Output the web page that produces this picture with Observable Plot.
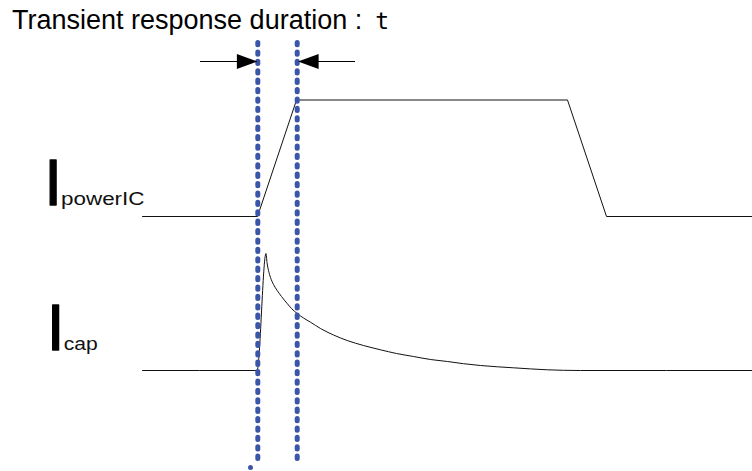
<!DOCTYPE html>
<html><head><meta charset="utf-8">
<script src="https://cdn.jsdelivr.net/npm/d3@7"></script>
<script src="https://cdn.jsdelivr.net/npm/@observablehq/plot@0.6"></script>
<style>
html,body{margin:0;padding:0;background:#fff;}
#wrap{position:relative;width:752px;height:471px;overflow:hidden;}
#title{position:absolute;left:12px;top:7px;font-family:"Liberation Sans",Arial,sans-serif;font-size:27px;line-height:27px;color:#000;white-space:nowrap;z-index:2;}
#title .t{font-family:"DejaVu Sans Mono";font-size:23px;line-height:0;margin-left:13px;}
</style></head><body>
<div id="wrap"><div id="title">Transient response duration :<span class="t">t</span></div></div>
<script>
// Time (left → right) and current level (bottom → top), arbitrary units
const powerTime  = [142, 257, 296, 567, 606, 752];
const powerLevel = [255, 255, 371.5, 371.5, 255, 255];

const capTime  = [142, 256.5, 265.5, 266.5, 268, 270, 273, 276.7, 281, 286.7, 291, 296.7, 303, 310, 320, 333, 346.7, 363, 380, 396, 413, 430, 447, 463, 480, 497, 513, 530, 547, 563, 580, 752];
const capLevel = [101, 101, 218, 209, 201, 194, 187, 181, 175, 168, 163, 158, 153.5, 149.3, 143, 136.5, 131, 126, 121.7, 118, 115, 112, 110, 107.8, 106, 104.7, 103.7, 102.6, 101.7, 101.2, 101, 101];

const transientEdges = [257.3, 296.7];      // start / end of transient window
const markerTop = 428.5, markerBottom = 7;   // extent of the window markers
const arrowLevel = 410;
const arrowTails = [200, 355];
const arrowTips  = [257, 297.5];

const labelNames = ["powerIC", "cap"];
const labelLevels = [267, 122];

const powerData = powerTime.map((t, i) => ({t, v: powerLevel[i]}));
const capData = capTime.map((t, i) => ({t, v: capLevel[i]}));
const edgeData = transientEdges.map(t => ({t, top: markerTop, bottom: markerBottom}));
const shaftData = [
  {x1: arrowTails[0], x2: arrowTips[0] - 18, y: arrowLevel},
  {x1: arrowTips[1] + 18, x2: arrowTails[1], y: arrowLevel}
];
const headData = [
  {x: arrowTips[0], y: arrowLevel, rot: 0},
  {x: arrowTips[1], y: arrowLevel, rot: 180}
];
const labelData = labelNames.map((s, i) => ({sub: s, v: labelLevels[i]}));

const arrowHead = {
  draw(ctx, size) {
    const r = Math.sqrt(size / Math.PI);
    ctx.moveTo(0, 0);
    ctx.lineTo(-2.75 * r, -r);
    ctx.lineTo(-2.75 * r, r);
    ctx.closePath();
  }
};

const blue = "#3a56a8";
const dash = "2.3 7.1";

const chart = Plot.plot({
  width: 752,
  height: 471,
  margin: 0,
  x: {domain: [0, 752], axis: null},
  y: {domain: [0, 471], axis: null},
  style: {background: "white", overflow: "visible"},
  marks: [
    Plot.line(powerData, {x: "t", y: "v", stroke: "#111", strokeWidth: 1}),
    Plot.line(capData, {x: "t", y: "v", stroke: "#111", strokeWidth: 1, curve: "monotone-x"}),
    Plot.ruleX(edgeData, {x: "t", y1: "top", y2: "bottom", stroke: blue, strokeWidth: 5,
      strokeLinecap: "round", strokeDasharray: dash, ariaLabel: "window"}),
    Plot.dot([{x: 250, y: 4}], {x: "x", y: "y", r: 2.5, fill: blue}),
    Plot.ruleY(shaftData, {x1: "x1", x2: "x2", y: "y", stroke: "#000", strokeWidth: 1}),
    Plot.dot(headData, {x: "x", y: "y", rotate: "rot", symbol: arrowHead, r: 7.5, fill: "#000", stroke: null}),
    Plot.text(labelData.slice(0, 1), {text: () => "I", x: () => 43.8, y: "v", fontSize: 64,
      fontFamily: "Liberation Sans, Arial, sans-serif", textAnchor: "start", lineAnchor: "bottom",
      fill: "#000", stroke: "#000", strokeWidth: 1.3}),
    Plot.text(labelData.slice(1), {text: () => "I", x: () => 46.2, y: "v", fontSize: 64,
      fontFamily: "Liberation Sans, Arial, sans-serif", textAnchor: "start", lineAnchor: "bottom",
      fill: "#000", stroke: "#000", strokeWidth: 1.3}),
    Plot.text(labelData.slice(0, 1), {text: "sub", x: () => 60.5, y: "v", fontSize: 17.5,
      fontFamily: "Liberation Sans, Arial, sans-serif", textAnchor: "start", lineAnchor: "bottom", fill: "#111"}),
    Plot.text(labelData.slice(1), {text: "sub", x: () => 63.3, y: "v", fontSize: 17.5,
      fontFamily: "Liberation Sans, Arial, sans-serif", textAnchor: "start", lineAnchor: "bottom", fill: "#111"})
  ]
});

// make sure the window markers render as round dots
chart.querySelectorAll('g[aria-label="window"], g[aria-label="window"] line').forEach(el => {
  el.setAttribute("stroke-linecap", "round");
  el.setAttribute("stroke-dasharray", dash);
});

// stretch subscript labels to the width they have in the reference
const widths = {powerIC: 83.5, cap: 34};
chart.querySelectorAll("text").forEach(el => {
  const w = widths[el.textContent.trim()];
  if (w) { el.setAttribute("textLength", w); el.setAttribute("lengthAdjust", "spacingAndGlyphs"); }
});

document.getElementById("wrap").appendChild(chart);
chart.style.position = "absolute";
chart.style.left = "0";
chart.style.top = "0";
</script>
</body></html>
